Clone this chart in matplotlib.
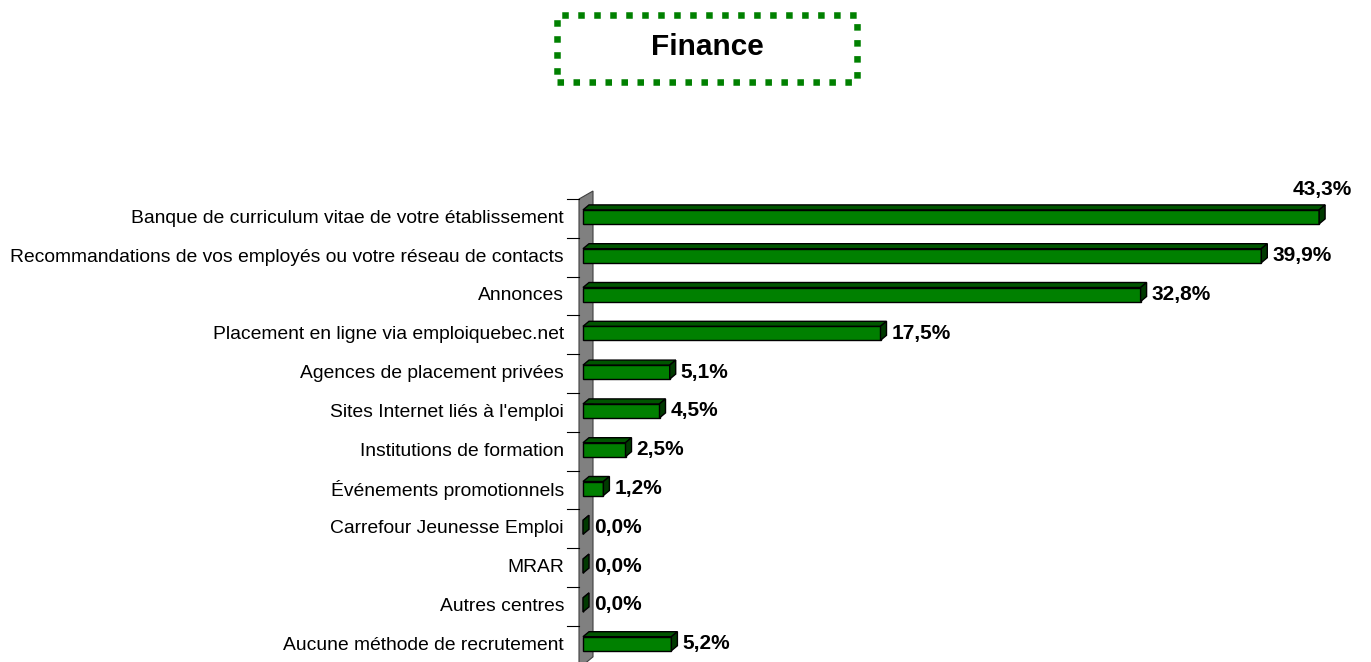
import numpy as np
import matplotlib.pyplot as plt
from matplotlib.patches import Polygon, Rectangle

plt.rcParams['font.family'] = ['Liberation Sans', 'DejaVu Sans']

# data
categories = [
    "Banque de curriculum vitae de votre établissement",
    "Recommandations de vos employés ou votre réseau de contacts",
    "Annonces",
    "Placement en ligne via emploiquebec.net",
    "Agences de placement privées",
    "Sites Internet liés à l'emploi",
    "Institutions de formation",
    "Événements promotionnels",
    "Carrefour Jeunesse Emploi",
    "MRAR",
    "Autres centres",
    "Aucune méthode de recrutement",
]
values = [43.3, 39.9, 32.8, 17.5, 5.1, 4.5, 2.5, 1.2, 0.0, 0.0, 0.0, 5.2]
value_labels = ["43,3%", "39,9%", "32,8%", "17,5%", "5,1%", "4,5%",
                "2,5%", "1,2%", "0,0%", "0,0%", "0,0%", "5,2%"]
title = "Finance"

# layout (pixels of a 1371x662 image)
W, H = 1371, 662
X0 = 583          # x pixel of value 0
PX_PER_UNIT = 17.0
ROW_PX = 38.8
TOP_PX = 199

fig = plt.figure(figsize=(W / 100, H / 100), dpi=100)
ax = fig.add_axes([X0 / W, 0, (W - X0) / W, (H - TOP_PX) / H])
ax.set_xlim(0, (W - X0) / PX_PER_UNIT)
ax.set_ylim(-0.5 + (H - TOP_PX) / ROW_PX, -0.5)
ax.axis('off')

px_x = 1 / PX_PER_UNIT
px_y = 1 / ROW_PX
dx, dy = 6 * px_x, 5 * px_y
bar_h = 14 * px_y
shift = -1.5 * px_y

# gray wall
wall = Polygon([(-4 * px_x, -0.5), (10 * px_x, -0.5 - 8 * px_y),
                (10 * px_x, 11.3), (-4 * px_x, 11.6)],
               closed=True, facecolor='#808080', edgecolor='#404040',
               lw=0.8, clip_on=False, zorder=1)
ax.add_patch(wall)

# boundary ticks
for k in range(13):
    ax.plot([-16 * px_x, -4 * px_x], [k - 0.5, k - 0.5], color='black',
            lw=0.8, clip_on=False, zorder=1)

# 3D bars
for i, v in enumerate(values):
    yc = i + shift
    y_top = yc - bar_h / 2
    y_bot = yc + bar_h / 2
    front = Rectangle((0, y_top), v, bar_h, facecolor='#008000',
                      edgecolor='black', lw=1.0, zorder=3)
    top = Polygon([(0, y_top), (dx, y_top - dy), (v + dx, y_top - dy), (v, y_top)],
                  closed=True, facecolor='#005500', edgecolor='black', lw=1.0, zorder=3)
    side = Polygon([(v, y_top), (v + dx, y_top - dy), (v + dx, y_bot - dy), (v, y_bot)],
                   closed=True, facecolor='#003a00', edgecolor='black', lw=1.0, zorder=3)
    for p in (front, top, side):
        p.set_clip_on(False)
        ax.add_patch(p)

    if i == 0:
        ax.text(v + dx / 2, y_top - dy - 15 * px_y, value_labels[i], ha='center',
                va='center', fontsize=15, fontweight='bold', zorder=4, clip_on=False)
    else:
        ax.text(v + dx + 5 * px_x, yc, value_labels[i], ha='left', va='center',
                fontsize=15, fontweight='bold', zorder=4)

    ax.text(-19 * px_x, i, categories[i], ha='right', va='center',
            fontsize=13.9, clip_on=False)

# title box
fig.text(707 / W, 1 - 47 / H, title, ha='center', va='center',
         fontsize=21.4, fontweight='bold')
box = Rectangle((557 / W, 1 - 81.5 / H), (856.5 - 557) / W, (81.5 - 14.5) / H,
                transform=fig.transFigure, fill=False, edgecolor='#008000',
                lw=4.7, linestyle=(0, (1, 1.45)))
box.set_capstyle('butt')
fig.patches.append(box)

fig.savefig('out.png', dpi=100, facecolor='white')
